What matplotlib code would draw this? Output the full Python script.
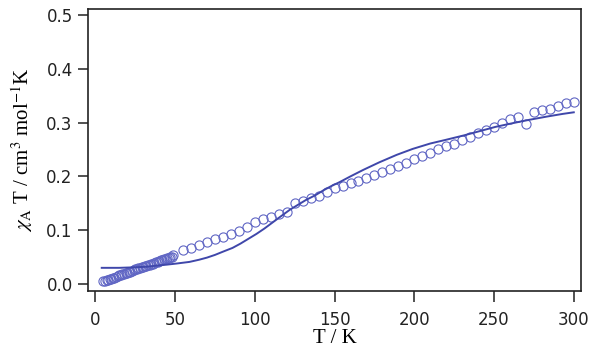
import numpy as np
import matplotlib
matplotlib.use("Agg")
import matplotlib.pyplot as plt

# measured chi*T data (circles)
temp_low = [5, 6, 7, 8, 9, 10, 11, 12, 13, 14, 15, 16, 17, 18, 19, 20, 21, 22, 23, 24,
            25, 26, 27, 28, 29, 30, 31, 32, 33, 34, 35, 36, 37, 38, 39, 40, 41, 42, 43, 44,
            45, 46, 47, 48, 49]
chi_low = [0.005, 0.006, 0.007, 0.008, 0.009, 0.010, 0.011, 0.012, 0.013, 0.015,
           0.016, 0.017, 0.018, 0.019, 0.020, 0.021, 0.022, 0.023, 0.024, 0.026,
           0.027, 0.028, 0.029, 0.030, 0.031, 0.032, 0.033, 0.034, 0.035, 0.036,
           0.037, 0.038, 0.039, 0.040, 0.041, 0.043, 0.044, 0.045, 0.046, 0.047,
           0.048, 0.049, 0.050, 0.051, 0.053]
temp_high = [55, 60, 65, 70, 75, 80, 85, 90, 95, 100, 105, 110, 115, 120, 125, 130, 135,
             140, 145, 150, 155, 160, 165, 170, 175, 180, 185, 190, 195, 200, 205, 210,
             215, 220, 225, 230, 235, 240, 245, 250, 255, 260, 265, 270, 275, 280, 285,
             290, 295, 300]
chi_high = [0.063, 0.067, 0.072, 0.078, 0.083, 0.088, 0.093, 0.099, 0.105, 0.115,
            0.120, 0.125, 0.130, 0.133, 0.151, 0.155, 0.159, 0.164, 0.170, 0.178,
            0.182, 0.187, 0.191, 0.196, 0.203, 0.208, 0.214, 0.220, 0.225, 0.232,
            0.238, 0.244, 0.250, 0.256, 0.261, 0.268, 0.274, 0.280, 0.286, 0.292,
            0.300, 0.306, 0.311, 0.297, 0.320, 0.323, 0.325, 0.330, 0.336, 0.339]

# fitted curve
temp_fit = [4, 15, 25, 32, 38, 45, 51, 59, 65, 70, 75, 80, 86, 91, 96, 101, 106, 111,
            116, 122, 127, 132, 138, 143, 148, 153, 160, 168, 178, 189, 199, 210, 220,
            231, 241, 251, 262, 272, 283, 293, 300]
chi_fit = [0.030, 0.030, 0.031, 0.032, 0.034, 0.036, 0.038, 0.041, 0.045, 0.049,
           0.054, 0.060, 0.067, 0.075, 0.084, 0.093, 0.103, 0.114, 0.125, 0.138,
           0.147, 0.156, 0.165, 0.174, 0.182, 0.189, 0.200, 0.212, 0.226, 0.240,
           0.251, 0.261, 0.268, 0.276, 0.284, 0.292, 0.299, 0.305, 0.311, 0.316,
           0.319]

temp_all = temp_low + temp_high
chi_all = chi_low + chi_high

plt.rcParams['font.family'] = ['DejaVu Sans']
plt.rcParams['mathtext.fontset'] = 'stix'

fig = plt.figure(figsize=(6.0, 3.59), dpi=100)
ax = fig.add_axes([0.1467, 0.1886, 0.8213, 0.7864])

ax.plot(temp_all, chi_all, 'o', mfc='none', mec='#6066c4', mew=0.8, ms=6.6)
ax.plot(temp_fit, chi_fit, '-', color='#3f47aa', lw=1.4)

ax.set_xlim(-4.6, 304.4)
ax.set_ylim(-0.0136, 0.511)
ax.set_xticks(np.arange(0, 301, 50))
ax.set_yticks(np.arange(0, 0.51, 0.1))
ax.set_yticklabels(['0.0', '0.1', '0.2', '0.3', '0.4', '0.5'])

for s in ax.spines.values():
    s.set_linewidth(1.2)
    s.set_color('#222222')
ax.tick_params(axis='x', direction='out', length=8, width=1.1, pad=6,
               labelsize=12, colors='#222222')
ax.tick_params(axis='y', direction='out', length=7, width=1.1, pad=4,
               labelsize=12, colors='#222222')

ax.set_xlabel('T / K', family='Liberation Serif', fontsize=15, labelpad=0)
ax.set_ylabel(r'$\chi_{\mathrm{A}}$ T / cm$^{3}$ mol$^{-1}$K', family='Liberation Serif',
              fontsize=15, labelpad=8)

fig.savefig('out.png', dpi=100)
